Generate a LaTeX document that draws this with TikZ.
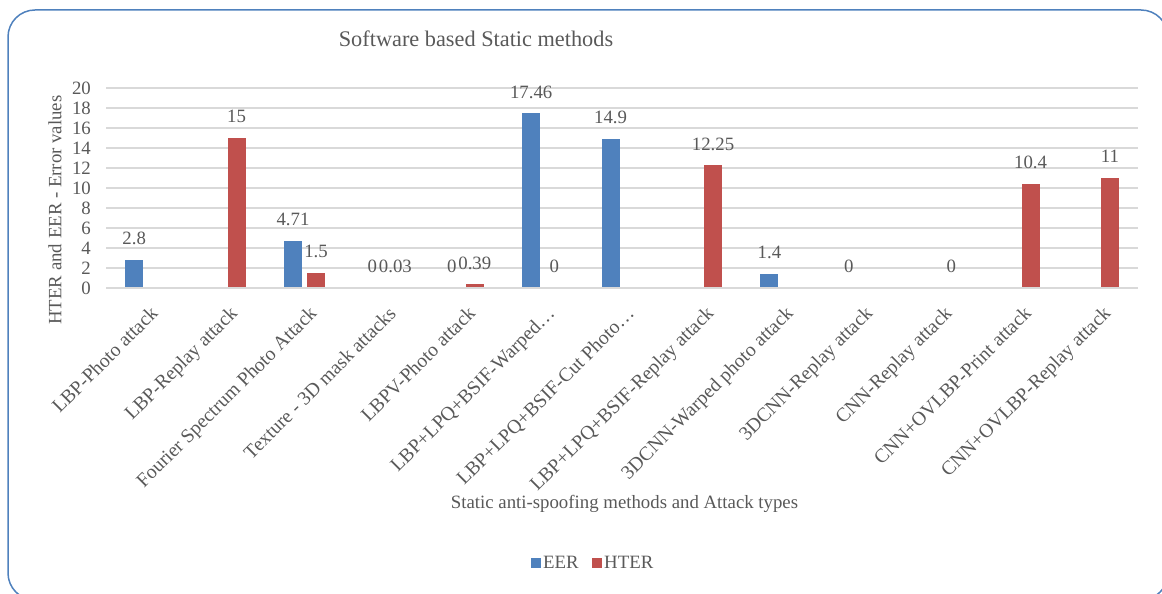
\documentclass[tikz,border=0pt]{standalone}
\usepackage{fontspec}
\setmainfont{Liberation Serif}
\definecolor{eer}{HTML}{4F81BD}
\definecolor{hter}{HTML}{C0504D}
\definecolor{gridgray}{HTML}{D9D9D9}
\definecolor{txt}{HTML}{595959}
\definecolor{framecol}{HTML}{4F81BD}
\newcommand{\EERbar}[2]{\fill[eerbar] ({106+79.4*(#1+0.5)-20.5},306) rectangle ({106+79.4*(#1+0.5)-2.5},{306+10*#2});}
\newcommand{\HTERbar}[2]{\fill[hterbar] ({106+79.4*(#1+0.5)+2.5},306) rectangle ({106+79.4*(#1+0.5)+20.5},{306+10*#2});}
\newcommand{\EERlab}[3]{\node[lbl, anchor=base] (#3) at ({106+79.4*(#1+0.5)-11.5},{306+10*#2+15}) {#2};}
\newcommand{\HTERlab}[3]{\node[lbl, anchor=base] (#3) at ({106+79.4*(#1+0.5)+11.5},{306+10*#2+15}) {#2};}
\begin{document}
\begin{tikzpicture}[x=1pt,y=1pt,
  lbl/.style={font=\fontsize{18.8}{21}\selectfont, text=txt, inner sep=0pt},
  titlestyle/.style={font=\fontsize{22.3}{25}\selectfont, text=txt, inner sep=0pt},
  gridline/.style={draw=gridgray, line width=1.6pt},
  eerbar/.style={fill=eer, draw=none},
  hterbar/.style={fill=hter, draw=none},
  catlabel/.style={lbl, font=\fontsize{19.6}{22}\selectfont, rotate=45, anchor=north east}]
\useasboundingbox (0,0) rectangle (1162,594);
% frame
\draw[framecol, line width=1.5pt, rounded corners=27pt] (8,584) rectangle (1168,-6);
% title
\node[titlestyle, anchor=base] (title) at (476,547) {Software based Static methods};
% grid lines and tick labels
\foreach \v in {2,4,...,20}{
  \draw[gridline] (106,306+10*\v) -- (1138,306+10*\v);
}
\foreach \v in {0,2,...,20}{
  \node[lbl, anchor=east] (tick\v) at (91,306+10*\v) {\v};
}
% bars
\EERbar{0}{2.8}   \EERlab{0}{2.8}{e0}
\HTERbar{1}{15}   \HTERlab{1}{15}{h1}
\EERbar{2}{4.71}  \EERlab{2}{4.71}{e2}
\HTERbar{2}{1.5}  \HTERlab{2}{1.5}{h2}
\EERlab{3}{0}{e3}
\HTERbar{3}{0.03} \HTERlab{3}{0.03}{h3}
\EERlab{4}{0}{e4}
\HTERbar{4}{0.39} \HTERlab{4}{0.39}{h4}
\EERbar{5}{17.46} \EERlab{5}{17.46}{e5}
\HTERlab{5}{0}{h5}
\EERbar{6}{14.9}  \EERlab{6}{14.9}{e6}
\HTERbar{7}{12.25} \HTERlab{7}{12.25}{h7}
\EERbar{8}{1.4}   \EERlab{8}{1.4}{e8}
\EERlab{9}{0}{e9}
\HTERlab{10}{0}{h10}
\HTERbar{11}{10.4} \HTERlab{11}{10.4}{h11}
\HTERbar{12}{11}  \HTERlab{12}{11}{h12}
% category axis line over the bar bottoms
\draw[gridline] (106,306) -- (1138,306);
% category labels
\foreach \i/\t in {0/LBP-Photo attack, 1/LBP-Replay attack, 2/Fourier Spectrum Photo Attack,
  3/Texture - 3D mask attacks, 4/LBPV-Photo attack, 5/LBP+LPQ+BSIF-Warped…,
  6/LBP+LPQ+BSIF-Cut Photo…, 7/LBP+LPQ+BSIF-Replay attack, 8/3DCNN-Warped photo attack,
  9/3DCNN-Replay attack, 10/CNN-Replay attack, 11/CNN+OVLBP-Print attack,
  12/CNN+OVLBP-Replay attack}{
  \node[catlabel] (cat\i) at ({106+79.4*(\i+0.5)+3.5},289) {\t};
}
% axis titles
\node[lbl, rotate=90] (ytitle) at (55,384) {HTER and EER - Error values};
\node[lbl, anchor=base] (xtitle) at (624.5,85) {Static anti-spoofing methods and Attack types};
% legend
\fill[eer] (531,26) rectangle (541,36);
\node[lbl, anchor=base west] (legEER) at (543,25) {EER};
\fill[hter] (592,26) rectangle (602,36);
\node[lbl, anchor=base west] (legHTER) at (604,25) {HTER};
\end{tikzpicture}
\end{document}
